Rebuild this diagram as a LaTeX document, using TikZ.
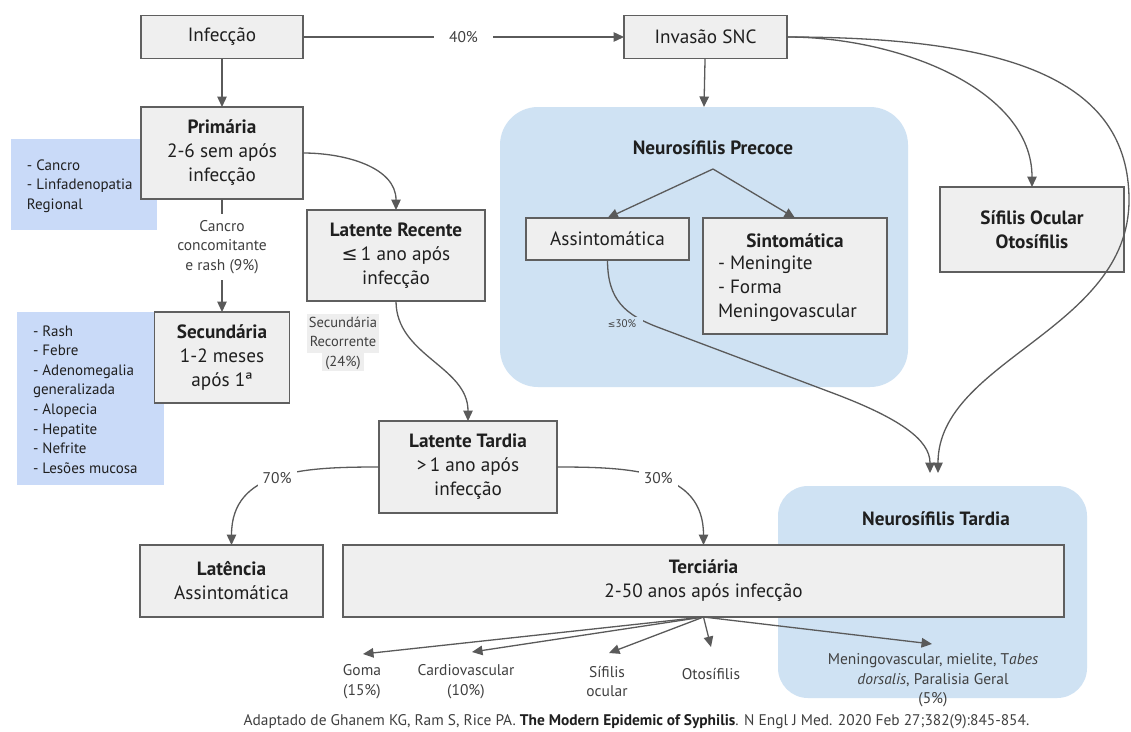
\documentclass[tikz,border=0pt]{standalone}
\usepackage{fontspec}
\setmainfont{PT Sans}
\newfontfamily\symfont{DejaVu Sans}
\usetikzlibrary{arrows.meta}
\definecolor{boxfill}{HTML}{EFEFEF}
\definecolor{boxdraw}{HTML}{5F5F5F}
\definecolor{sideblue}{HTML}{C9DAF8}
\definecolor{neuroblue}{HTML}{CFE2F3}
\definecolor{txt}{HTML}{1F1F1F}
\definecolor{lbl}{HTML}{404040}
\definecolor{arr}{HTML}{5A5A5A}
\definecolor{hl}{HTML}{EEEEEE}
\begin{document}
\begin{tikzpicture}[x=1pt,y=-1pt,
  every node/.style={inner sep=0pt, outer sep=0pt},
  stage/.style={draw=boxdraw, fill=boxfill, line width=1.3pt, text=txt, align=center, font=\fontsize{19.2}{24}\selectfont},
  sidebox/.style={fill=sideblue, draw=none},
  neurobox/.style={fill=neuroblue, draw=none, rounded corners=38pt},
  sidetext/.style={anchor=west, align=left, text=txt, font=\fontsize{15}{19.6}\selectfont},
  small/.style={align=center, text=lbl, font=\fontsize{15.5}{19.5}\selectfont},
  boxtext/.style={text=txt, font=\fontsize{19.2}{24}\selectfont},
  title/.style={text=txt, font=\bfseries\fontsize{19.2}{24}\selectfont},
  conn/.style={draw=arr, line width=1.3pt, -{Triangle[length=10.5pt,width=9.5pt]}},
]
\path[fill=white] (0,0) rectangle (1131,731);
\useasboundingbox (0,0) rectangle (1131,731);

% background blue areas
\node[sidebox, minimum width=146pt, minimum height=91pt] (side1) at (84,184.5) {};
\node[sidetext] (side1t) at (27,186) {- Cancro\\- Linfadenopatia\\Regional};
\node[sidebox, minimum width=147pt, minimum height=173pt] (side2) at (90.5,398.5) {};
\node[sidetext] (side2t) at (33,399.5) {- Rash\\- Febre\\- Adenomegalia\\generalizada\\- Alopecia\\- Hepatite\\- Nefrite\\- Lesões mucosa};
\node[neurobox, minimum width=408pt, minimum height=280pt] (nprec) at (704,247) {};
\node[title] (nprect) at (713,148) {Neurosífilis Precoce};
\coordinate (nsplit) at (713,169);
\node[neurobox, rounded corners=30pt, minimum width=309pt, minimum height=212pt] (ntar) at (932.5,592) {};
\node[title] (ntart) at (936,519) {Neurosífilis Tardia};

% stage boxes
\node[stage, minimum width=162pt, minimum height=43pt] (inf) at (222,37) {Infecção};
\node[stage, minimum width=163pt, minimum height=43pt] (snc) at (705.5,37) {Invasão SNC};
\node[stage, minimum width=162pt, minimum height=92pt] (prim) at (222,153) {\textbf{Primária}\\2-6 sem após\\infecção};
\node[stage, minimum width=135pt, minimum height=91pt] (sec) at (222,357.5) {\textbf{Secundária}\\1-2 meses\\após 1ª};
\node[stage, minimum width=178pt, minimum height=91pt] (lrec) at (396,255.5) {\textbf{Latente Recente}\\{\symfont ≤}\,1 ano após\\infecção};
\node[stage, minimum width=178pt, minimum height=92pt] (ltar) at (468,467) {\textbf{Latente Tardia}\\>\,1 ano após\\infecção};
\node[stage, minimum width=183pt, minimum height=72pt] (lat) at (231.5,581) {\textbf{Latência}\\Assintomática};
\node[stage, minimum width=721pt, minimum height=72pt] (terc) at (703.5,581) {\textbf{Terciária}\\2-50 anos após infecção};
\node[stage, minimum width=163pt, minimum height=42pt] (assint) at (607.5,239) {Assintomática};
\node[stage, minimum width=184pt, minimum height=116pt] (sint) at (795,276) {};
\node[title] (sintt) at (795,241) {Sintomática};
\node[boxtext, anchor=west, align=left] (sintl) at (718,289) {- Meningite\\- Forma\\Meningovascular};
\node[stage, font=\bfseries\fontsize{19.2}{24}\selectfont, minimum width=184pt, minimum height=85pt] (ocul) at (1032,229.5) {Sífilis Ocular\\Otosífilis};

% secundaria recorrente label (text highlight)
\fill[hl] (307,314) rectangle (379,353);
\fill[hl] (322,353) rectangle (364,371);
\node[align=center, text=lbl, font=\fontsize{14.5}{19.5}\selectfont] (secrec) at (343,343) {Secundária\\Recorrente\\(24\%)};

% connectors
\draw[conn] (inf) -- node[small, fill=white, inner xsep=15pt, inner ysep=4pt] {40\%} (snc);
\draw[conn] (inf) -- (prim);
\draw[conn] (prim) -- node[small, pos=0.425, fill=white, inner ysep=6pt, inner xsep=2pt] {Cancro\\concomitante\\e rash (9\%)} (sec);
\draw[conn] (prim.east) to[out=0,in=90] (lrec.north);
\draw[conn] (lrec.south) to[out=-90,in=90] (ltar.north);
\draw[conn] (ltar.west) to[out=180,in=90, looseness=1.15] node[small, pos=0.5, fill=white, inner xsep=5pt, inner ysep=6pt] {70\%} (lat.north);
\draw[conn] (ltar.east) to[out=0,in=90, looseness=1.15] node[small, pos=0.5, fill=white, inner xsep=5pt, inner ysep=6pt] {30\%} (terc.north);
\draw[conn] (snc) -- (nprec.north);
\draw[conn] (nsplit) -- (assint.north);
\draw[conn] (nsplit) -- (sint.north);
\draw[conn] (snc.east) .. controls (900,37) and (1032,90) .. (ocul.north);
\coordinate (ntarA) at (930,473);
\coordinate (ntarB) at (938,473);
\draw[conn] (snc.east) .. controls (1010,37) and (1129,80) .. (1129,200) .. controls (1129,330) and (938,360) .. (ntarB);
\draw[conn] (assint.south) .. controls (607.5,300) and (625,315) .. (660,328) -- (830,392) .. controls (900,418) and (930,440) .. (ntarA);
\node[font=\fontsize{11}{13}\selectfont, text=lbl, fill=neuroblue, inner xsep=7pt, inner ysep=3pt] (le30) at (622,324) {{\symfont\fontsize{9}{11}\selectfont ≤}30\%};

% tertiary outcomes
\coordinate (tGoma) at (363,654);
\coordinate (tCard) at (472,652);
\coordinate (tOcul) at (609,653);
\coordinate (tOto) at (711,647);
\coordinate (tMen) at (932,644);
\draw[conn] (terc.south) -- (tGoma);
\draw[conn] (terc.south) -- (tCard);
\draw[conn] (terc.south) -- (tOcul);
\draw[conn] (terc.south) -- (tOto);
\draw[conn] (terc.south) -- (tMen);
\node[small] (goma) at (362,681.5) {Goma\\(15\%)};
\node[small] (card) at (466,681.5) {Cardiovascular\\(10\%)};
\node[small] (socul) at (607,681.5) {Sífilis\\ocular};
\node[small] (oto) at (711,674) {Otosífilis};
\node[small] (mening) at (933,680.5) {Meningovascular, mielite, T\textit{abes}\\\textit{dorsalis}, Paralisia Geral\\(5\%)};

% reference
\node[small, text=lbl, font=\fontsize{15.4}{18}\selectfont] (ref) at (636.5,722) {Adaptado de Ghanem KG, Ram S, Rice PA. {\color{txt}\textbf{The Modern Epidemic of Syphilis}}. N Engl J Med. 2020 Feb 27;382(9):845-854.};
\end{tikzpicture}
\end{document}
